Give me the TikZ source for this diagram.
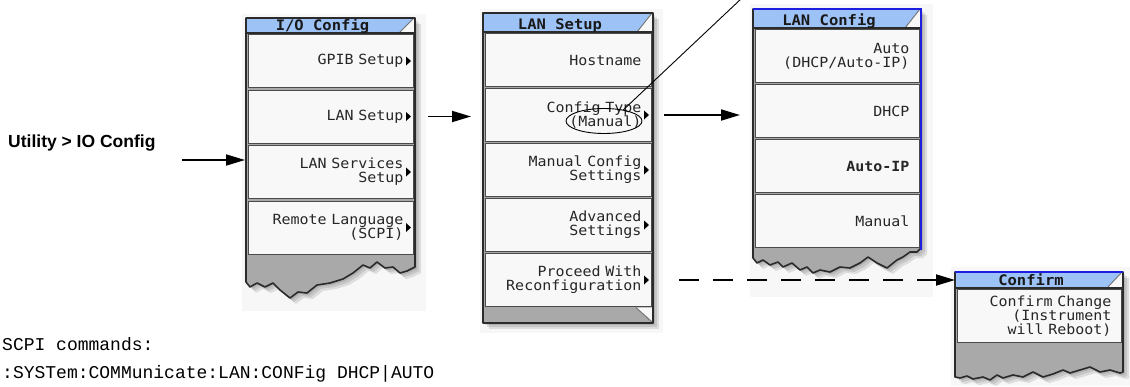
\documentclass[tikz,border=0pt]{standalone}
\usepackage{fontspec}
\usetikzlibrary{arrows.meta,shapes.geometric,calc}
\newfontfamily\btnfontfam{DejaVu Sans Mono}[FakeStretch=1.07]
\newfontfamily\monofam{Liberation Mono}
\newfontfamily\sansfam{Liberation Sans}
\definecolor{titleblue}{HTML}{9DC2F6}
\definecolor{btnfill}{HTML}{F8F8F8}
\definecolor{panelgray}{HTML}{A9A9A9}
\definecolor{framedark}{HTML}{2B2B2B}
\definecolor{selblue}{HTML}{1E1EE0}
\definecolor{bgpale}{HTML}{F7F7F7}
\tikzset{
 btn/.style={draw=framedark!85, line width=1pt, fill=btnfill, rectangle, inner sep=0pt, anchor=north west, font=\btnfontfam\fontsize{14}{14}\selectfont, text=black!85, align=right},
 ttl/.style={font=\btnfontfam\bfseries\fontsize{14.5}{14}\selectfont, text=black!90, inner sep=0pt, anchor=base},
 outl/.style={draw=framedark, line width=1.6pt, line join=round},
 shad/.style={fill=black, opacity=0.10},
 arr/.style={line width=1.8pt, -{Triangle[length=19pt,width=11pt]}},
 callout/.style={line width=0.9pt},
}
\newcommand\mytitle[6]{%
 \fill[btnfill] (#2,#4) rectangle (#3,#5);
 \fill[titleblue] (#2,#4) -- ({#3-1},#4) -- ({#3-16},#5) -- (#2,#5) -- cycle;
 \draw[black!55, line width=0.9pt] ({#3-16},#5) -- ({#3-1},#4);
 \draw[framedark, line width=1.2pt] (#2,#5) -- (#3,#5);
 \node[ttl] (#1) at ({(#2+#3-16)/2},{#5-3}) {#6};
}
\newcommand\mybtn[6]{%
 \pgfmathsetmacro\tw{#4-20}%
 \node[btn, minimum width=#4pt, minimum height=#5pt, text width=\tw pt] (#1) at (#2,#3) {#6};}
\newcommand\mytri[1]{\fill ($(#1.east)+(-8,-4.5)$) -- ++(5,4.5) -- ++(-5,4.5) -- cycle;}
\newcommand\pathA[1]{\path[#1] (246,18) -- (415,18) -- (415,267) -- (407,271) -- (400,273) -- (393,267) -- (385,268) -- (377,262) -- (370,268) -- (363,265) -- (353,273) -- (343,279) -- (330,283) -- (317,285) -- (307,293) -- (298,292) -- (290,298) -- (280,290) -- (273,283) -- (265,287) -- (257,283) -- (250,287) -- (246,282) -- cycle;}
\newcommand\pathB[1]{\path[#1] (483,13) -- (653,13) -- (653,323) -- (483,323) -- cycle;}
\newcommand\pathC[1]{\path[#1] (753,9) -- (921,9) -- (921,248) -- (917,252) -- (910,252) -- (903,257) -- (897,260) -- (887,268) -- (877,263) -- (868,257) -- (860,263) -- (850,268) -- (840,267) -- (830,272) -- (820,270) -- (813,273) -- (807,267) -- (800,270) -- (792,263) -- (783,267) -- (778,262) -- (770,265) -- (763,260) -- (757,263) -- (753,258) -- cycle;}
\newcommand\pathD[1]{\path[#1] (955,272) -- (1123,272) -- (1123,372) -- (1120,373) -- (1110,370) -- (1100,372) -- (1090,367) -- (1080,370) -- (1070,373) -- (1063,370) -- (1053,374) -- (1043,377) -- (1033,372) -- (1023,377) -- (1013,375) -- (1003,378) -- (997,375) -- (990,380) -- (983,377) -- (973,379) -- (967,376) -- (960,378) -- (955,377) -- cycle;}
\newcommand\shadows[1]{#1{shad, shift={(2,2)}}#1{shad, shift={(4,4)}}#1{shad, shift={(6,6)}}}
\begin{document}
\begin{tikzpicture}[x=1pt,y=-1pt]
\useasboundingbox (0,0) rectangle (1130,386);
% screenshot backgrounds
\fill[bgpale] (242,14) rectangle (426,311);
\fill[bgpale] (480,9) rectangle (663,333);
\fill[bgpale] (750,4) rectangle (933,297);
\fill[bgpale] (951,267) rectangle (1130,386);
% ---------- panel 1 : I/O Config
\shadows\pathA
\pathA{fill=panelgray}
\mytitle{t1}{246}{415}{18}{33}{I/O Config}
\mybtn{p1b1}{248}{34}{165}{53}{GPIB Setup}
\mybtn{p1b2}{248}{89.5}{165}{53}{LAN Setup}
\mybtn{p1b3}{248}{145}{165}{53}{LAN Services\\Setup}
\mybtn{p1b4}{248}{200.5}{165}{53}{Remote Language\\(SCPI)}
\mytri{p1b1}\mytri{p1b2}\mytri{p1b3}\mytri{p1b4}
\pathA{outl}
% ---------- panel 2 : LAN Setup
\shadows\pathB
\pathB{fill=panelgray}
\mytitle{t2}{483}{653}{13}{32}{LAN Setup}
\mybtn{p2b1}{485}{33}{166}{53}{Hostname}
\mybtn{p2b2}{485}{88}{166}{53}{Config Type\\(Manual)}
\mybtn{p2b3}{485}{143}{166}{53}{Manual Config\\Settings}
\mybtn{p2b4}{485}{198}{166}{53}{Advanced\\Settings}
\mybtn{p2b5}{485}{253}{166}{53}{Proceed With\\Reconfiguration}
\mytri{p2b2}\mytri{p2b3}\mytri{p2b4}\mytri{p2b5}
\fill[btnfill] (636,307.5) -- (653,307.5) -- (653,322) -- cycle;
\draw[black!55, line width=0.9pt] (636,307.5) -- (652,322);
\pathB{outl}
% ---------- panel 3 : LAN Config
\shadows\pathC
\pathC{fill=panelgray}
\mytitle{t3}{753}{921}{9}{28}{LAN Config}
\mybtn{p3b1}{755}{29}{164}{53}{Auto\\(DHCP/Auto-IP)}
\mybtn{p3b2}{755}{84}{164}{53}{DHCP}
\mybtn{p3b3}{755}{139}{164}{53}{\bfseries Auto-IP}
\mybtn{p3b4}{755}{194}{164}{53}{Manual}
\pathC{outl}
\draw[selblue, line width=1.8pt] (753,9) -- (921,9) -- (921,250);
% ---------- panel 4 : Confirm
\shadows\pathD
\pathD{fill=panelgray}
\mytitle{t4}{955}{1123}{272}{288}{Confirm}
\mybtn{p4b1}{957}{289}{164}{53}{Confirm Change\\(Instrument\\will Reboot)}
\pathD{outl}
\draw[selblue, line width=1.8pt] (955,272) -- (1123,272);
% ---------- labels
\node[font=\sansfam\bfseries\fontsize{17.5}{20}\selectfont, anchor=west, inner sep=0pt] (util) at (8,143) {Utility > IO Config};
\coordinate (u0) at (182,160);
\node[font=\monofam\fontsize{18}{20}\selectfont, anchor=base west, inner sep=0pt] (scpi1) at (2,350) {SCPI commands:};
\node[font=\monofam\fontsize{18}{20}\selectfont, anchor=base west, inner sep=0pt] (scpi2) at (2,378) {:SYSTem:COMMunicate:LAN:CONFig DHCP|AUTO};
% ---------- callout
\node[ellipse, draw, line width=0.9pt, minimum width=76pt, minimum height=25pt, inner sep=0pt] (ell) at (604,121) {};
\coordinate (ctop) at (742,-2);
\draw[callout] (ell.30) -- (ctop);
% ---------- connectors
\draw[arr] (u0) -- ($(u0 -| p1b3.west)+(-3,0)$);
\draw[arr] ($(p1b2.east)+(14,0)$) -- ($(p2b2.west |- p1b2.east)+(-14,0)$);
\draw[arr] ($(p2b2.east)+(12,0)$) -- ($(p3b2.west |- p2b2.east)+(-15,0)$);
\draw[arr, dash pattern=on 20pt off 14pt] ($(p2b5.east)+(27,0)$) -- ($(p4b1.west |- p2b5.east)+(-2,0)$);
\end{tikzpicture}
\end{document}
